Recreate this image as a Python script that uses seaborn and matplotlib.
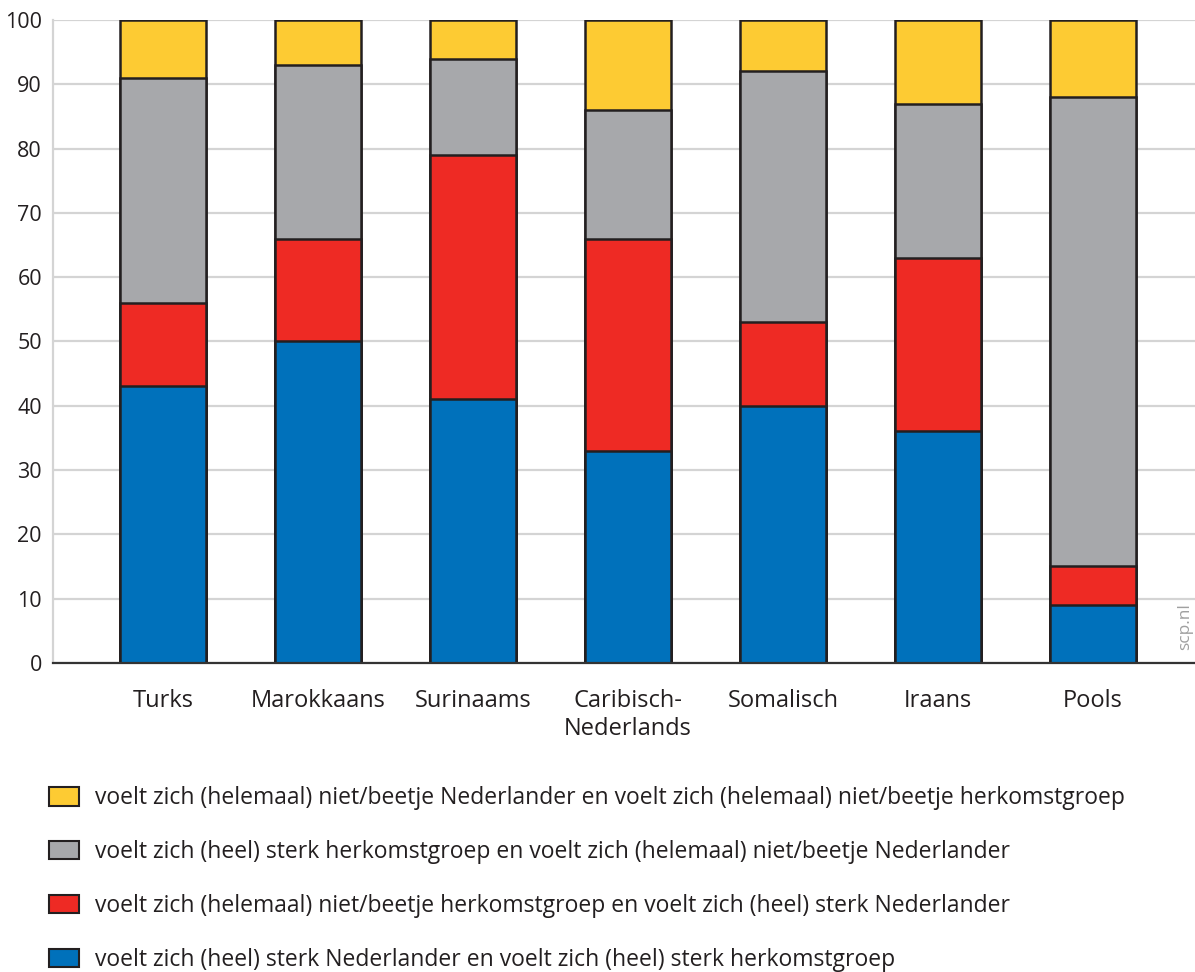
import pandas as pd
import seaborn as sns
import matplotlib.pyplot as plt
from matplotlib.patches import Patch

# data (percentages)
groups = ['Turks', 'Marokkaans', 'Surinaams', 'Caribisch-\nNederlands', 'Somalisch', 'Iraans', 'Pools']
beide_sterk = [43, 50, 41, 33, 40, 36, 9]
alleen_nl = [13, 16, 38, 33, 13, 27, 6]
alleen_herkomst = [35, 27, 15, 20, 39, 24, 73]
geen_van_beide = [9, 7, 6, 14, 8, 13, 12]

labels = [
    'voelt zich (helemaal) niet/beetje Nederlander en voelt zich (helemaal) niet/beetje herkomstgroep',
    'voelt zich (heel) sterk herkomstgroep en voelt zich (helemaal) niet/beetje Nederlander',
    'voelt zich (helemaal) niet/beetje herkomstgroep en voelt zich (heel) sterk Nederlander',
    'voelt zich (heel) sterk Nederlander en voelt zich (heel) sterk herkomstgroep',
]
colors = ['#fdcb33', '#a7a8ab', '#ee2a24', '#0071bb']
edge = '#231f20'

df = pd.DataFrame({'groep': groups, 'blauw': beide_sterk, 'rood': alleen_nl,
                   'grijs': alleen_herkomst, 'geel': geen_van_beide})
df['c1'] = df['blauw']
df['c2'] = df['c1'] + df['rood']
df['c3'] = df['c2'] + df['grijs']
df['c4'] = df['c3'] + df['geel']

sns.set_theme(style='white')
plt.rcParams['font.family'] = ['Open Sans', 'DejaVu Sans']

fig = plt.figure(figsize=(11.95, 9.72), dpi=100)
ax = fig.add_axes([0.0444, 0.318, 0.9556, 0.6614])

# stacked bars: draw cumulative totals from top layer down
for col, c in zip(['c4', 'c3', 'c2', 'c1'], colors):
    sns.barplot(data=df, x='groep', y=col, color=c, width=0.555,
                edgecolor=edge, linewidth=1.8, saturation=1, ax=ax, zorder=3)

ax.set_ylim(0, 100)
ax.set_xlim(-0.71, 6.66)
ax.set_yticks(range(0, 101, 10))
ax.yaxis.grid(True, color='#d4d4d4', linewidth=1.6, zorder=0)
ax.set_axisbelow(True)
ax.set_xlabel('')
ax.set_ylabel('')
for s in ['top', 'right']:
    ax.spines[s].set_visible(False)
ax.spines['left'].set_color('#d4d4d4')
ax.spines['left'].set_linewidth(1.6)
ax.spines['bottom'].set_color('#333333')
ax.spines['bottom'].set_linewidth(1.6)
ax.spines['bottom'].set_zorder(5)
ax.tick_params(axis='x', length=0, pad=19, labelsize=17, labelcolor='#231f20')
ax.tick_params(axis='y', length=0, pad=8, labelsize=15.5, labelcolor='#231f20')

fig.text(0.9915, 0.355, 'scp.nl', rotation=90, fontsize=12.5, color='#a0a0a0',
         ha='center', va='center')

handles = [Patch(facecolor=c, edgecolor=edge, linewidth=1.5) for c in colors]
fig.legend(handles, labels, loc='upper left', bbox_to_anchor=(0.041, 0.191),
           frameon=False, fontsize=16.5, labelspacing=1.3, handlelength=1.3,
           handleheight=0.85, handletextpad=0.7, labelcolor='#231f20',
           borderaxespad=0, borderpad=0)

fig.savefig('out.png', dpi=100)
